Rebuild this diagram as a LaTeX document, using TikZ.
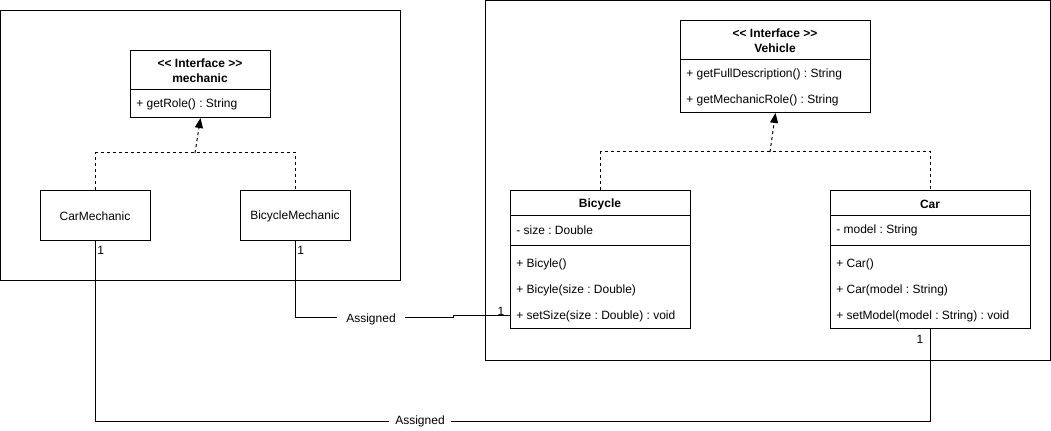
\documentclass[tikz,border=0pt]{standalone}
\usepackage{fontspec}
\setmainfont{Liberation Sans}
\usetikzlibrary{arrows.meta}
\newdimen\pxu \pxu=0.75pt
\frenchspacing
\tikzset{
  line/.style={line width=0.75pt, black},
  boxs/.style={draw, line width=0.75pt, anchor=north west, inner sep=0pt, fill=white},
  txt/.style={font=\fontsize{9}{11}\selectfont, inner sep=0pt},
  ttl/.style={font=\fontsize{9}{11}\selectfont\bfseries, inner sep=0pt, align=center},
  mem/.style={font=\fontsize{9}{11}\selectfont, inner sep=0pt, anchor=west},
  real/.style={line width=0.75pt, dash pattern=on 2.25pt off 2.25pt, -{Triangle[width=6pt,length=7.5pt]}},
  dsh/.style={line width=0.75pt, dash pattern=on 2.25pt off 2.25pt},
  lbl/.style={font=\fontsize{9}{11}\selectfont, fill=white, inner xsep=4.5pt, inner ysep=2pt},
  mult/.style={font=\fontsize{9}{11}\selectfont, inner sep=0pt}
}
\begin{document}
\frenchspacing
\begin{tikzpicture}[x=0.75pt,y=-0.75pt]
\useasboundingbox (0,0) rectangle (1051,431);
% containers
\node[boxs, fill=none, minimum width=400\pxu, minimum height=270\pxu] (left) at (0,10) {};
\node[boxs, fill=none, minimum width=565\pxu, minimum height=360\pxu] (right) at (485,0) {};
% mechanic interface
\node[boxs, minimum width=140\pxu, minimum height=67\pxu] (mech) at (130,50) {};
\draw[line] (130,90) -- (270,90);
\node[ttl] (mechT) at (200,70.5) {{<}{<} Interface {>}{>}\\mechanic};
\node[mem] (mechM) at (136,104) {+ getRole() : String};
% mechanics
\node[boxs, minimum width=110\pxu, minimum height=50\pxu] (cm) at (40,190) {};
\node[txt] (cmT) at (95,216) {CarMechanic};
\node[boxs, minimum width=110\pxu, minimum height=50\pxu] (bm) at (240,190) {};
\node[txt] (bmT) at (295,216) {BicycleMechanic};
% realization mechanic
\draw[dsh] (cm.north) |- (bm.north |- 0,153) -- (bm.north);
\draw[real] (195,153) -- (mech.south);
% Vehicle interface
\node[boxs, minimum width=190\pxu, minimum height=92\pxu] (veh) at (680,20) {};
\draw[line] (680,60) -- (870,60);
\node[ttl] (vehT) at (775,40.5) {{<}{<} Interface {>}{>}\\Vehicle};
\node[mem] (vehM1) at (686,74) {+ getFullDescription() : String};
\node[mem] (vehM2) at (686,100) {+ getMechanicRole() : String};
% Bicycle
\node[boxs, minimum width=180\pxu, minimum height=138\pxu] (bic) at (510,190) {};
\draw[line] (510,216) -- (690,216);
\draw[line] (510,246) -- (690,246);
\node[ttl] (bicT) at (600,204) {Bicycle};
\node[mem] (bicA) at (516,230) {- size : Double};
\node[mem] (bicM1) at (516,264) {+ Bicyle()};
\node[mem] (bicM2) at (516,290) {+ Bicyle(size : Double)};
\node[mem] (bicM3) at (516,316) {+ setSize(size : Double) : void};
% Car
\node[boxs, minimum width=200\pxu, minimum height=138\pxu] (car) at (830,190) {};
\draw[line] (830,216) -- (1030,216);
\draw[line] (830,246) -- (1030,246);
\node[ttl] (carT) at (930,204) {Car};
\node[mem] (carA) at (836,230) {- model : String};
\node[mem] (carM1) at (836,264) {+ Car()};
\node[mem] (carM2) at (836,290) {+ Car(model : String)};
\node[mem] (carM3) at (836,316) {+ setModel(model : String) : void};
% realization vehicle
\draw[dsh] (bic.north) |- (car.north |- 0,152) -- (car.north);
\draw[real] (770,152) -- (veh.south);
% associations
\coordinate (j1) at (453,318);
\coordinate (j2) at (453,316);
\draw[line] (bm.south) |- (j1) -- (j2) -- (bic.west |- j2);
\node[lbl, inner xsep=7pt] (as1) at (371,319) {Assigned};
\draw[line] (car.south) |- (cm.south |- 0,421) -- (cm.south);
\node[lbl] (as2) at (420,421) {Assigned};
% multiplicities
\node[mult, anchor=west] (m1) at (97,250) {1};
\node[mult, anchor=west] (m2) at (297,250) {1};
\node[mult] (m3) at (501,311) {1};
\node[mult] (m4) at (920,339) {1};
\end{tikzpicture}
\end{document}
